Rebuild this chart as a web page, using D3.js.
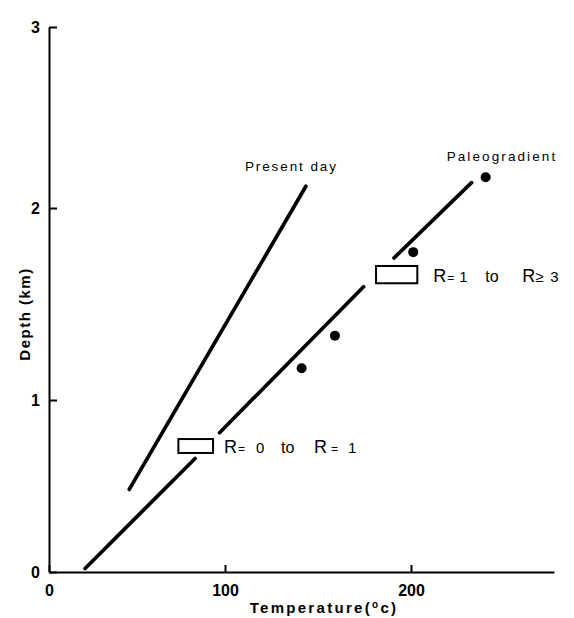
<!DOCTYPE html>
<html>
<head>
<meta charset="utf-8">
<script src="https://cdn.jsdelivr.net/npm/d3@7"></script>
<style>
  html, body { margin: 0; padding: 0; background: #fff; }
  svg { display: block; font-family: "Liberation Sans", Arial, Helvetica, sans-serif; }
</style>
</head>
<body>
<svg id="chart" width="574" height="618"></svg>
<script>
// ---- data (temperature in °C, depth in km) ----
const xTicks = [0, 100, 200];
const yTicks = [0, 1, 2, 3];

// present-day gradient line
const presentDay = [[45.6, 0.48], [143.5, 2.12]];

// paleogradient: three segments broken by the R boxes
const paleoSegments = [
  [[20.5, 0.02], [83, 0.66]],
  [[96.9, 0.81], [174.5, 1.59]],
  [[190.9, 1.74], [232.6, 2.14]]
];

// measured points
const pointsTemp  = [240.2, 201.2, 159.1, 141.2];
const pointsDepth = [2.17, 1.77, 1.335, 1.165];

// R boxes: [tMin, tMax, dMin, dMax]
const boxes = [
  [73.5, 93.2, 0.692, 0.773],
  [181.2, 203.4, 1.608, 1.698]
];
const boxLabels = [
  [["R", 0, 18], ["=", 14, 12], ["0", 32, 15], ["to", 57, 16], ["R", 90, 18], ["=", 107, 12], ["1", 124, 15]],
  [["R", 0, 18], ["=", 14, 12], ["1", 26, 15], ["to", 52, 16], ["R", 89, 18], ["\u2265", 102, 15], ["3", 117, 15]]
];
const boxLabelGap = [11, 16];

const curveLabels = ["Present day", "Paleogradient"];

// ---- scales (hand-drawn original: tick spacing is slightly uneven) ----
const x = d3.scaleLinear().domain([0, 100, 200, 277]).range([49, 225, 411, 554]);
const y = d3.scaleLinear().domain([0, 1, 2, 3]).range([572, 400, 208, 27]);

const svg = d3.select("#chart");

// axes
const xAxis = d3.axisBottom(x).tickValues(xTicks).tickSizeInner(-7).tickSizeOuter(0).tickPadding(13)
  .tickFormat(d3.format("d"));
const gx = svg.append("g").attr("transform", `translate(0,${y(0)})`).call(xAxis);
gx.select(".domain").attr("stroke", "#000").attr("stroke-width", 2);
gx.selectAll(".tick line").attr("stroke", "#000").attr("stroke-width", 2);
gx.selectAll(".tick text").attr("font-size", 16).attr("font-weight", "bold").attr("fill", "#000")
  .attr("font-family", "'Liberation Sans', Arial, sans-serif");

const yAxis = d3.axisLeft(y).tickValues(yTicks).tickSizeInner(-8).tickSizeOuter(0).tickPadding(9)
  .tickFormat(d3.format("d"));
const gy = svg.append("g").attr("transform", `translate(${x(0)},0)`).call(yAxis);
gy.select(".domain").attr("stroke", "#000").attr("stroke-width", 2);
gy.selectAll(".tick line").attr("stroke", "#000").attr("stroke-width", 2);
gy.selectAll(".tick text").attr("font-size", 16).attr("font-weight", "bold").attr("fill", "#000")
  .attr("font-family", "'Liberation Sans', Arial, sans-serif");

// axis titles
const xt = svg.append("text")
  .attr("x", 324).attr("y", 613)
  .attr("text-anchor", "middle")
  .attr("font-size", 15).attr("font-weight", "bold").attr("letter-spacing", 2.3);
xt.append("tspan").text("Temperature(");
xt.append("tspan").attr("font-size", 10).attr("dy", -5).text("o");
xt.append("tspan").attr("dy", 5).text("c)");

svg.append("text")
  .attr("transform", `translate(30,${(y(1) + y(2)) / 2 + 10}) rotate(-90)`)
  .attr("text-anchor", "middle")
  .attr("font-size", 15).attr("font-weight", "bold").attr("letter-spacing", 1.5)
  .text("Depth (km)");

// lines
const line = d3.line().x(d => x(d[0])).y(d => y(d[1]));
svg.append("path").datum(presentDay).attr("d", line)
  .attr("fill", "none").attr("stroke", "#000").attr("stroke-width", 3.7).attr("stroke-linecap", "round");
svg.selectAll(".paleo").data(paleoSegments).enter().append("path")
  .attr("class", "paleo").attr("d", line)
  .attr("fill", "none").attr("stroke", "#000").attr("stroke-width", 3.7).attr("stroke-linecap", "round");

// points
svg.selectAll(".pt").data(pointsTemp).enter().append("circle")
  .attr("class", "pt")
  .attr("cx", d => x(d)).attr("cy", (d, i) => y(pointsDepth[i])).attr("r", 5)
  .attr("fill", "#000");

// boxes
svg.selectAll(".box").data(boxes).enter().append("rect")
  .attr("class", "box")
  .attr("x", d => x(d[0])).attr("y", d => y(d[3]))
  .attr("width", d => x(d[1]) - x(d[0])).attr("height", d => y(d[2]) - y(d[3]))
  .attr("fill", "#fff").attr("stroke", "#000").attr("stroke-width", 2);

// box labels
boxes.forEach((b, i) => {
  const x0 = x(b[1]) + boxLabelGap[i];
  const yb = (y(b[2]) + y(b[3])) / 2 + 7;
  const g = svg.append("g");
  boxLabels[i].forEach(p => {
    g.append("text").attr("x", x0 + p[1]).attr("y", yb)
      .attr("font-size", p[2]).attr("fill", "#000").text(p[0]);
  });
});

// curve labels
svg.append("text").attr("x", x(presentDay[1][0]) - 61).attr("y", y(presentDay[1][1]) - 15)
  .attr("font-size", 13.5).attr("letter-spacing", 1.9).text(curveLabels[0]);
svg.append("text").attr("x", x(pointsTemp[0]) - 39).attr("y", y(pointsDepth[0]) - 16)
  .attr("font-size", 13.5).attr("letter-spacing", 2.1).text(curveLabels[1]);
</script>
</body>
</html>
